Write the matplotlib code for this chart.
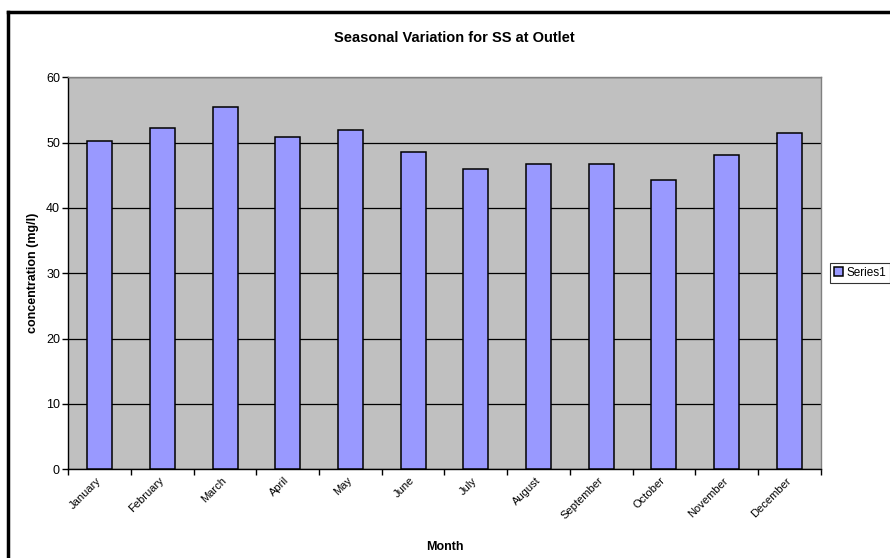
#!/usr/bin/env python3
"""Seasonal variation of SS at the outlet, Excel-style bar chart."""

import matplotlib

matplotlib.use("Agg")
import matplotlib.pyplot as plt
import numpy as np
from matplotlib.lines import Line2D

MONTHS = ["January", "February", "March", "April", "May", "June",
          "July", "August", "September", "October", "November", "December"]
SS_MG_L = [50.3, 52.2, 55.5, 50.8, 52.0, 48.5, 46.0, 46.8, 46.7, 44.3, 48.1, 51.5]
Y_TICKS = [0, 10, 20, 30, 40, 50, 60]

plt.rcParams["font.family"] = ["Liberation Sans", "DejaVu Sans"]

fig = plt.figure(figsize=(8.9, 5.58), dpi=100)
ax = fig.add_axes([68.3 / 890, 1 - 469.3 / 558, 752.4 / 890, 392 / 558])

x = np.arange(len(MONTHS))
ax.set_facecolor("#C0C0C0")
ax.bar(x, SS_MG_L, width=0.4, color="#9999FF", edgecolor="black",
       linewidth=1.1, label="Series1", zorder=3)

ax.set_xlim(-0.5, len(MONTHS) - 0.5)
ax.set_ylim(0, 60)
ax.set_yticks(Y_TICKS)
ax.yaxis.grid(True, color="black", linewidth=0.9, zorder=1)
ax.set_axisbelow(True)

# month labels sit at category centres; tick marks at category edges
ax.set_xticks(x)
ax.set_xticklabels(MONTHS, rotation=45, ha="right", va="center",
                   rotation_mode="anchor", fontsize=8)
ax.tick_params(axis="x", which="major", length=0, pad=7)
ax.set_xticks(np.arange(-0.5, len(MONTHS)), minor=True)
ax.tick_params(axis="x", which="minor", length=4, width=1, color="black")
ax.tick_params(axis="y", length=4, width=1, labelsize=9, pad=2)

for side in ("left", "bottom"):
    ax.spines[side].set_color("black")
    ax.spines[side].set_linewidth(1.0)
for side in ("top", "right"):
    ax.spines[side].set_color("#808080")
    ax.spines[side].set_linewidth(1.0)

ax.set_ylabel("concentration (mg/l)", fontsize=9, fontweight="bold")
ax.yaxis.set_label_coords((39 - 68.3) / 752.4, 0.5)
fig.text(444.5 / 890, 1 - 547 / 558, "Month", ha="center", va="center",
         fontsize=9, fontweight="bold")
fig.text(454 / 890, 1 - 37.5 / 558, "Seasonal Variation for SS at Outlet",
         ha="center", va="center", fontsize=10.5, fontweight="bold")

leg = fig.legend(loc="center left", bbox_to_anchor=(830 / 890, 1 - 273 / 558),
                 fontsize=8.5, frameon=True, fancybox=False, handlelength=0.8,
                 handleheight=0.8, handletextpad=0.3, borderpad=0.3,
                 borderaxespad=0)
leg.get_frame().set_edgecolor("black")
leg.get_frame().set_linewidth(0.8)

# chart frame (screenshot is cropped on the right and bottom)
fig.add_artist(Line2D([7.5 / 890, 1], [1 - 12 / 558] * 2, color="black",
                      linewidth=2.5, transform=fig.transFigure))
fig.add_artist(Line2D([7.5 / 890] * 2, [0, 1 - 12 / 558], color="black",
                      linewidth=2.5, transform=fig.transFigure))

fig.savefig("out.png", dpi=100)
